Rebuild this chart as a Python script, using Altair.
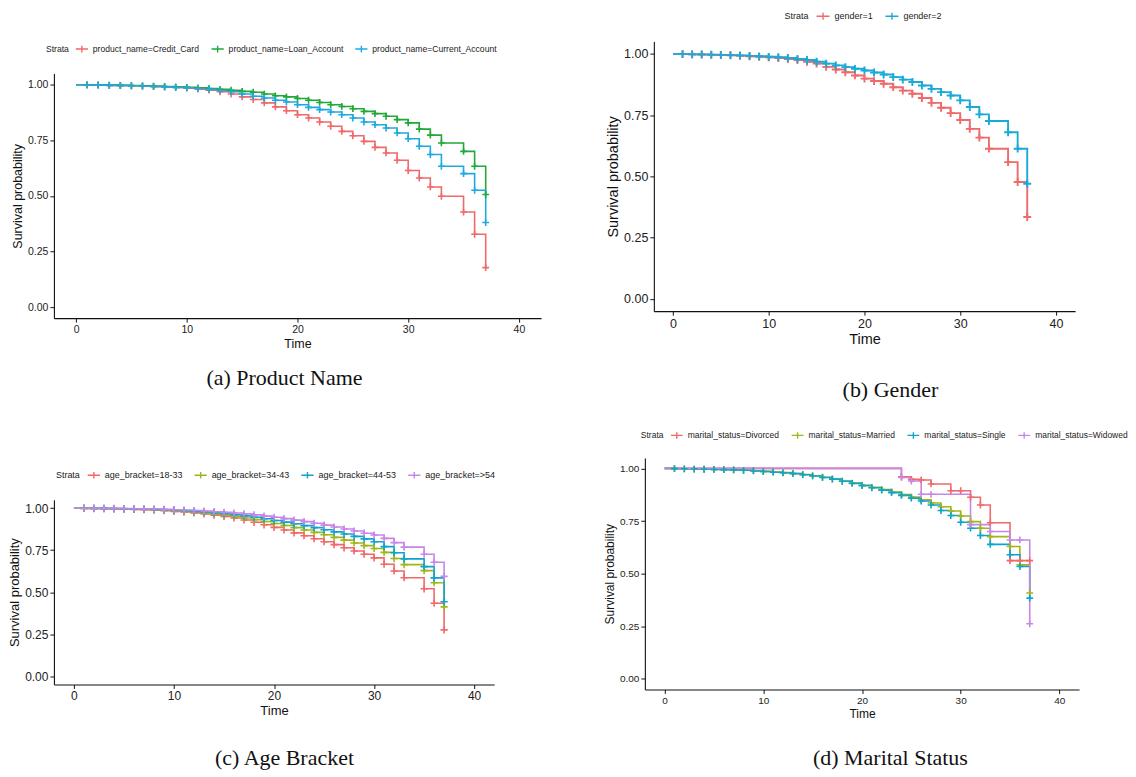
import altair as alt
import pandas as pd

FONT = "Liberation Sans"
SERIF = "Liberation Serif"
PLUS = "M-1,0H1M0,-1V1"
LEG_SYM = "M-1,0H1M0,-0.55V0.55"

times_full = list(range(0, 34)) + [35, 36, 37]

# ---------------- (a) Product Name ----------------
prod_labels = ["product_name=Credit_Card", "product_name=Loan_Account", "product_name=Current_Account"]
prod_credit = [1.000, .999, .998, .997, .996, .995, .993, .991, .989, .987,
               .984, .980, .975, .968, .958, .945, .933, .918, .900, .883,
               .865, .850, .832, .813, .790, .770, .745, .718, .693, .660,
               .614, .580, .540, .498, .427, .327, .177]
prod_loan = [1.000, .999, .999, .998, .997, .996, .995, .994, .992, .990,
             .988, .986, .983, .979, .975, .970, .966, .958, .950, .945,
             .938, .930, .920, .910, .902, .892, .880, .870, .858, .843,
             .828, .800, .773, .738, .700, .633, .506]
prod_current = [1.000, .999, .998, .997, .996, .995, .994, .992, .990, .988,
                .986, .983, .979, .974, .968, .958, .948, .940, .930, .922,
                .910, .898, .888, .877, .865, .850, .832, .820, .805, .783,
                .757, .723, .686, .633, .600, .525, .380]

# ---------------- (b) Gender ----------------
gender_labels = ["gender=1", "gender=2"]
gender_1 = [1.000, .999, .998, .997, .996, .995, .994, .992, .990, .988,
            .986, .983, .979, .975, .968, .960, .947, .936, .925, .912,
            .899, .889, .878, .864, .850, .837, .820, .800, .780, .758,
            .730, .694, .658, .613, .558, .477, .334]
gender_2 = [1.000, .999, .998, .998, .997, .996, .995, .994, .992, .990,
            .988, .986, .983, .979, .975, .968, .960, .953, .946, .939,
            .932, .924, .916, .905, .895, .885, .871, .857, .844, .830,
            .810, .783, .753, .726, .680, .613, .470]

# ---------------- (c) Age Bracket ----------------
age_labels = ["age_bracket=18-33", "age_bracket=34-43", "age_bracket=44-53", "age_bracket=>54"]
age_18_33 = [1.000, .999, .998, .997, .996, .995, .993, .991, .988, .985,
             .981, .977, .972, .966, .959, .951, .942, .930, .916, .901,
             .886, .870, .853, .836, .818, .800, .783, .764, .745, .726,
             .704, .666, .626, .586, .520, .434, .275]
age_34_43 = [1.000, .999, .999, .998, .997, .996, .995, .993, .991, .988,
             .985, .981, .977, .972, .966, .959, .951, .942, .932, .921,
             .909, .897, .884, .870, .856, .842, .826, .810, .793, .777,
             .760, .737, .700, .664, .628, .556, .412]
age_44_53 = [1.000, 1.000, .999, .999, .998, .997, .996, .995, .993, .991,
             .988, .985, .981, .977, .972, .967, .961, .954, .946, .937,
             .927, .917, .907, .896, .884, .872, .859, .846, .832, .817,
             .800, .771, .735, .698, .652, .585, .443]
age_54 = [1.000, 1.000, 1.000, .999, .999, .998, .997, .996, .995, .993,
          .991, .989, .986, .983, .979, .975, .971, .966, .960, .953,
          .946, .938, .929, .920, .910, .899, .888, .876, .864, .851,
          .840, .820, .795, .768, .726, .678, .594]

# ---------------- (d) Marital Status ----------------
marital_labels = ["marital_status=Divorced", "marital_status=Married",
                  "marital_status=Single", "marital_status=Widowed"]
divorced_times = [0, 24, 25, 26, 27, 29, 30, 31, 32, 33, 35, 36, 37]
divorced = [1.000, .960, .948, .945, .926, .894, .894, .863, .826, .742, .562, .562, .562]
married = [1.000, .999, .998, .997, .996, .995, .994, .993, .991, .989,
           .986, .983, .980, .976, .971, .965, .958, .950, .940, .930,
           .920, .910, .899, .888, .876, .864, .851, .836, .818, .798,
           .774, .747, .716, .676, .629, .542, .408]
single = [1.000, .999, .998, .997, .996, .995, .994, .993, .991, .988,
          .985, .982, .979, .975, .970, .964, .957, .949, .939, .929,
          .918, .908, .897, .885, .872, .859, .845, .826, .800, .776,
          .744, .716, .681, .639, .590, .534, .384]
widowed_times = [0, 24, 25, 26, 27, 31, 33, 35, 36, 37]
widowed = [1.000, .957, .940, .877, .877, .733, .700, .660, .660, .262]

captions = ["(a) Product Name", "(b) Gender", "(c) Age Bracket", "(d) Marital Status"]

RED = "#F0696B"
COLORS3 = [RED, "#22A838", "#1FA9E1"]
COLORS2 = [RED, "#1AAAD8"]
COLORS4 = [RED, "#A2B51B", "#0FA4CC", "#C688E8"]


def make_df(series):
    rows = []
    for label, times, vals in series:
        for t, v in zip(times, vals):
            rows.append({"time": t, "surv": v, "strata": label})
    return pd.DataFrame(rows)


def panel(df, labels, colors, caption, plot, origin_y, cell, leg, cap_pos,
          tick_fs, title_fs, leg_fs, plus_size, leg_sym_size, line_w):
    """plot, cell, leg, cap_pos are given in page pixels."""
    px0, py0, px1, py1 = plot
    ox, oy = px0, origin_y
    W = px1 - px0
    H = py1 - oy
    cx0, cy0, cx1, cy1 = cell
    xs = alt.Scale(domain=[-2, 42], nice=False, zero=False)
    ys = alt.Scale(domain=[-0.05, 1.05], nice=False, zero=False,
                   range=[H, py0 - oy])
    common = dict(grid=False, domainColor="#111", tickColor="#111", labelColor="#222",
                  titleColor="#111", labelFont=FONT, titleFont=FONT,
                  labelFontSize=tick_fs, titleFontSize=title_fs, titleFontWeight="normal",
                  tickSize=4, labelPadding=2, titlePadding=3, domainWidth=1.1, tickWidth=1)
    xaxis = alt.Axis(values=[0, 10, 20, 30, 40], title="Time", labelFlush=False, **common)
    yaxis = alt.Axis(values=[0, 0.25, 0.5, 0.75, 1.0], format=".2f",
                     title="Survival probability", **common)
    legend = alt.Legend(orient="none", legendX=leg[0] - ox, legendY=leg[1] - oy,
                        direction="horizontal", title="Strata", titleOrient="left",
                        titleFont=FONT, titleFontSize=leg_fs, titleFontWeight="normal",
                        titleColor="#222", titlePadding=6, labelFont=FONT,
                        labelFontSize=leg_fs, labelColor="#222", labelOffset=4,
                        columnPadding=9, symbolType=LEG_SYM, symbolSize=leg_sym_size,
                        symbolStrokeWidth=1.4, symbolFillColor="transparent",
                        labelLimit=300)
    color = alt.Color("strata:N", scale=alt.Scale(domain=labels, range=colors),
                      sort=labels, legend=legend)
    x = alt.X("time:Q", scale=xs, axis=xaxis)
    y = alt.Y("surv:Q", scale=ys, axis=yaxis)
    base = alt.Chart(df)
    lines = base.mark_line(interpolate="step-after", strokeWidth=line_w).encode(
        x=x, y=y, color=color)
    pts = base.transform_filter("datum.time > 0").mark_point(
        shape=PLUS, filled=False, size=plus_size, strokeWidth=line_w, opacity=1
    ).encode(x=x, y=y, color=color)
    spacer = alt.Chart(pd.DataFrame({"k": [0]})).mark_rule(strokeOpacity=0).encode(
        x=alt.value(cx0 - ox), y=alt.value(cy0 - oy),
        x2=alt.value(cx1 - ox), y2=alt.value(cy1 - oy))
    cap = alt.Chart(pd.DataFrame({"c": [caption]})).mark_text(
        font=SERIF, fontSize=22, color="#111", baseline="middle", align="center"
    ).encode(text="c:N", x=alt.value(cap_pos[0] - ox), y=alt.value(cap_pos[1] - oy))
    return alt.layer(spacer, lines, pts, cap).properties(width=W, height=H)


df_a = make_df([(prod_labels[0], times_full, prod_credit),
                (prod_labels[1], times_full, prod_loan),
                (prod_labels[2], times_full, prod_current)])
df_b = make_df([(gender_labels[0], times_full, gender_1),
                (gender_labels[1], times_full, gender_2)])
df_c = make_df([(age_labels[0], times_full, age_18_33),
                (age_labels[1], times_full, age_34_43),
                (age_labels[2], times_full, age_44_53),
                (age_labels[3], times_full, age_54)])
df_d = make_df([(marital_labels[0], divorced_times, divorced),
                (marital_labels[1], times_full, married),
                (marital_labels[2], times_full, single),
                (marital_labels[3], widowed_times, widowed)])

ROW1_ORIGIN = 41
ROW2_ORIGIN = 458

pa = panel(df_a, prod_labels, COLORS3, captions[0], plot=(52, 73, 540, 318),
           origin_y=ROW1_ORIGIN, cell=(8, 8, 580, 420), leg=(44, 41),
           cap_pos=(283, 378), tick_fs=10.5, title_fs=12.5, leg_fs=8.6,
           plus_size=46, leg_sym_size=150, line_w=1.6)
pb = panel(df_b, gender_labels, COLORS2, captions[1], plot=(653, 41, 1075, 311),
           origin_y=ROW1_ORIGIN, cell=(580, 8, 1128, 420), leg=(784, 8),
           cap_pos=(890, 390), tick_fs=12.5, title_fs=14.5, leg_fs=9,
           plus_size=62, leg_sym_size=170, line_w=1.9)
pc = panel(df_c, age_labels, COLORS4, captions[2], plot=(52, 500, 493, 685),
           origin_y=ROW2_ORIGIN, cell=(8, 420, 580, 768), leg=(54, 468),
           cap_pos=(283, 759), tick_fs=12, title_fs=13, leg_fs=9,
           plus_size=52, leg_sym_size=150, line_w=1.6)
pd_ = panel(df_d, marital_labels, COLORS4, captions[3], plot=(644, 458, 1079, 690),
            origin_y=ROW2_ORIGIN, cell=(580, 420, 1128, 768), leg=(640, 428),
            cap_pos=(890, 759), tick_fs=10, title_fs=12, leg_fs=8.5,
            plus_size=46, leg_sym_size=140, line_w=1.6)

top = alt.hconcat(pa, pb, spacing=0).resolve_scale(
    color="independent", x="independent", y="independent").resolve_legend(color="independent")
bottom = alt.hconcat(pc, pd_, spacing=0).resolve_scale(
    color="independent", x="independent", y="independent").resolve_legend(color="independent")
chart = alt.vconcat(top, bottom, spacing=0).resolve_scale(
    color="independent", x="independent", y="independent").resolve_legend(
    color="independent").properties(padding=0, background="white").configure_view(stroke=None)

chart.save("out.html", embed_options={"renderer": "svg", "actions": False})
